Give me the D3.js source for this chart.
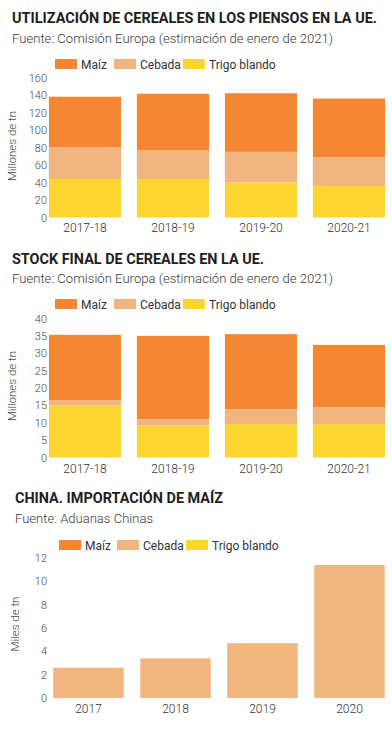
<!DOCTYPE html>
<html><head><meta charset="utf-8">
<script src="https://cdn.jsdelivr.net/npm/d3@7"></script>
<style>
html,body{margin:0;padding:0;background:#fff;}
svg{display:block;font-family:Roboto,"Noto Sans",sans-serif;}
</style></head>
<body>
<svg id="chart" width="392" height="730"></svg>
<script>
// ---------- DATA ----------
const seriesNames = ["Maíz", "Cebada", "Trigo blando"];
const seriesColors = ["#F58634", "#F1B680", "#FCD531"];

const categories1 = ["2017-18", "2018-19", "2019-20", "2020-21"];
const maiz1   = [58, 65, 67, 67];
const cebada1 = [36, 32.5, 35, 33];
const trigo1  = [44, 44, 40, 36];
const ticks1  = [0, 20, 40, 60, 80, 100, 120, 140, 160];

const categories2 = ["2017-18", "2018-19", "2019-20", "2020-21"];
const maiz2   = [18.8, 24, 21.6, 17.9];
const cebada2 = [1.5, 1.8, 4.3, 4.9];
const trigo2  = [15, 9.2, 9.6, 9.6];
const ticks2  = [0, 5, 10, 15, 20, 25, 30, 35, 40];

const categories3 = ["2017", "2018", "2019", "2020"];
const importacion3 = [2.6, 3.4, 4.7, 11.4];
const ticks3  = [0, 2, 4, 6, 8, 10, 12];

const titles = ["UTILIZACIÓN DE CEREALES EN LOS PIENSOS EN LA UE.",
                "STOCK FINAL DE CEREALES EN LA UE.",
                "CHINA. IMPORTACIÓN DE MAÍZ"];
const sources = ["Fuente: Comisión Europa (estimación de enero de 2021)",
                 "Fuente: Comisión Europa (estimación de enero de 2021)",
                 "Fuente: Aduanas Chinas"];
const yTitles = ["Millones de tn", "Millones de tn", "Miles de tn"];

// ---------- DRAW ----------
const svg = d3.select("#chart");

function header(cfg) {
  svg.append("text").attr("x", cfg.tx).attr("y", cfg.ty)
    .attr("font-size", 15).attr("font-weight", 700).attr("fill", "#1e1e1e")
    .attr("textLength", cfg.tw).attr("lengthAdjust", "spacingAndGlyphs")
    .text(cfg.title);
  svg.append("text").attr("x", cfg.tx).attr("y", cfg.sy)
    .attr("font-size", 13).attr("font-weight", 300).attr("fill", "#3a3a3a")
    .attr("textLength", cfg.sw).attr("lengthAdjust", "spacingAndGlyphs")
    .text(cfg.source);
  // legend
  const lg = svg.append("g");
  seriesNames.forEach((n, i) => {
    const x = cfg.lx[i];
    lg.append("rect").attr("x", x).attr("y", cfg.ly).attr("width", 22).attr("height", 10)
      .attr("fill", seriesColors[i]);
    lg.append("text").attr("x", x + 26).attr("y", cfg.ly + 9.5)
      .attr("font-size", 12).attr("fill", "#333").text(n);
  });
}

function axes(cfg, x, y) {
  const ya = svg.append("g").attr("transform", `translate(${cfg.tickX},0)`)
    .call(d3.axisLeft(y).tickValues(cfg.ticks).tickSize(0).tickPadding(0));
  ya.select(".domain").remove();
  ya.selectAll("text").attr("font-size", 11).attr("fill", "#444")
    .attr("font-family", "Roboto,'Noto Sans',sans-serif").attr("font-weight", 300);

  const xa = svg.append("g").attr("transform", `translate(0,${cfg.xLabelY})`)
    .call(d3.axisBottom(x).tickSize(0).tickPadding(0));
  xa.select(".domain").remove();
  xa.selectAll("text").attr("font-size", 12).attr("fill", "#333").attr("dy", 0)
    .attr("font-family", "Roboto,'Noto Sans',sans-serif").attr("font-weight", 300);

  svg.append("text")
    .attr("transform", `translate(${cfg.ytx},${cfg.yty}) rotate(-90)`)
    .attr("text-anchor", "middle").attr("font-size", 11.5).attr("fill", "#444")
    .attr("font-weight", 300)
    .text(cfg.yTitle);
}

function stacked(cfg, cats, maiz, cebada, trigo) {
  header(cfg);
  const rows = cats.map((c, i) => ({cat: c, trigo: trigo[i], cebada: cebada[i], maiz: maiz[i]}));
  const keys = ["trigo", "cebada", "maiz"];
  const colorByKey = {maiz: seriesColors[0], cebada: seriesColors[1], trigo: seriesColors[2]};
  const x = d3.scaleBand().domain(cats).range(cfg.xr).paddingInner(0.18).paddingOuter(0.09);
  const y = d3.scaleLinear().domain(cfg.yd).range(cfg.yr);
  const stack = d3.stack().keys(keys)(rows);
  svg.append("g").selectAll("g").data(stack).join("g")
    .attr("fill", d => colorByKey[d.key])
    .selectAll("rect").data(d => d).join("rect")
    .attr("x", d => x(d.data.cat)).attr("width", x.bandwidth())
    .attr("y", d => y(d[1])).attr("height", d => y(d[0]) - y(d[1]));
  axes(cfg, x, y);
}

stacked({
  title: titles[0], source: sources[0], yTitle: yTitles[0],
  tx: 12, ty: 23, tw: 365, sy: 43, sw: 321,
  lx: [55, 114, 183], ly: 59,
  xr: [41, 393], yd: [0, 160], yr: [217.5, 77.5], ticks: ticks1,
  tickX: 47, xLabelY: 232, ytx: 16, yty: 146
}, categories1, maiz1, cebada1, trigo1);

stacked({
  title: titles[1], source: sources[1], yTitle: yTitles[1],
  tx: 12, ty: 264, tw: 252, sy: 283, sw: 321,
  lx: [55, 114, 183], ly: 299,
  xr: [41, 393], yd: [0, 40], yr: [457.5, 318.5], ticks: ticks2,
  tickX: 47, xLabelY: 473, ytx: 16, yty: 386
}, categories2, maiz2, cebada2, trigo2);

// Chart 3
(function () {
  const cfg = {
    title: titles[2], source: sources[2], yTitle: yTitles[2],
    tx: 15, ty: 503, tw: 208, sy: 523, sw: 138,
    lx: [59, 117, 186], ly: 540,
    xr: [45, 393], yd: [0, 12], yr: [698, 558], ticks: ticks3,
    tickX: 47, xLabelY: 713, ytx: 19, yty: 624
  };
  header(cfg);
  const x = d3.scaleBand().domain(categories3).range(cfg.xr).paddingInner(0.19).paddingOuter(0.095);
  const y = d3.scaleLinear().domain(cfg.yd).range(cfg.yr);
  svg.append("g").selectAll("rect").data(importacion3).join("rect")
    .attr("x", (d, i) => x(categories3[i])).attr("width", x.bandwidth())
    .attr("y", d => y(d)).attr("height", d => y(0) - y(d))
    .attr("fill", seriesColors[1]);
  axes(cfg, x, y);
})();
</script>
</body></html>
